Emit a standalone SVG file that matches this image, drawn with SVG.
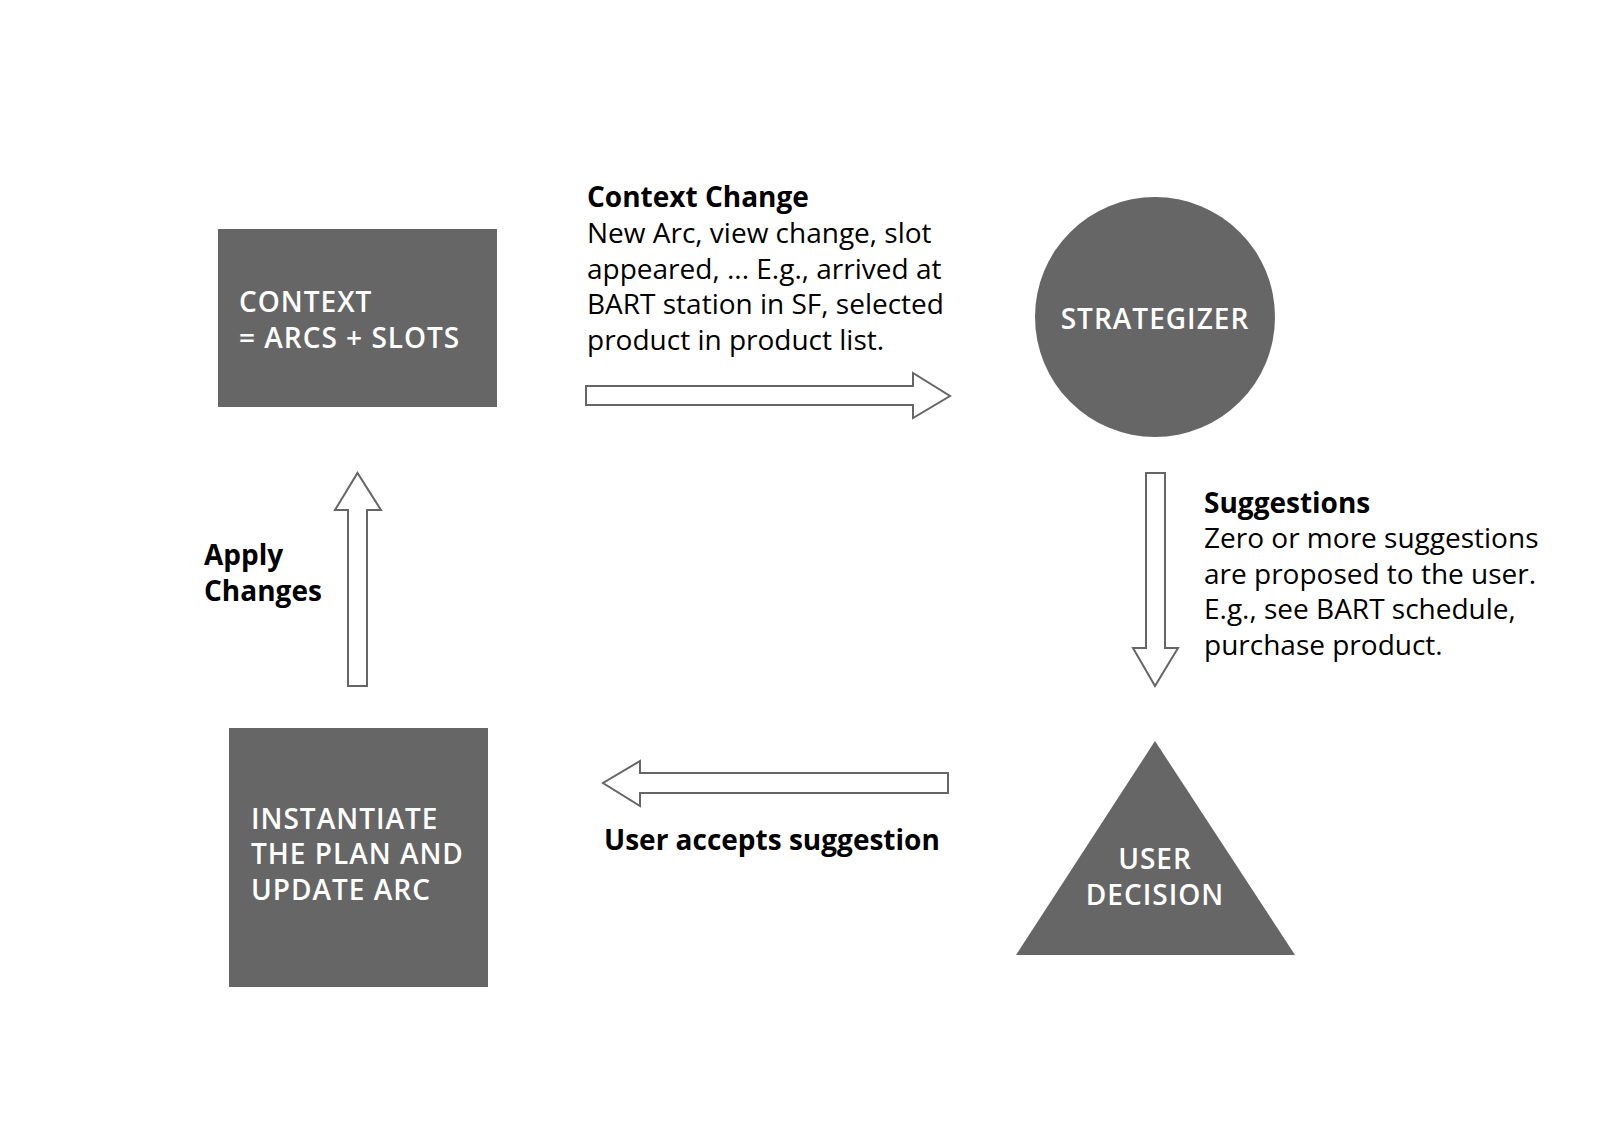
<svg xmlns="http://www.w3.org/2000/svg" width="1600" height="1134" viewBox="0 0 1600 1134">
<style>
  .node { fill: #666666; }
  .ntext { fill: #ffffff; font-family: "Open Sans", "Liberation Sans", sans-serif; font-weight: 600; font-size: 28px; letter-spacing: 1px; }
  .arrow { fill: #ffffff; stroke: #666666; stroke-width: 2; }
  .label { fill: #000000; font-family: "Open Sans", "Liberation Sans", sans-serif; font-size: 28px; }
  .bold { font-weight: 700; }
</style>
<rect width="1600" height="1134" fill="#ffffff"/>
<g id="context">
  <rect class="node" x="218" y="229" width="279" height="178"/>
  <text class="ntext" x="239" y="312">CONTEXT</text>
  <text class="ntext" x="239" y="348">= ARCS + SLOTS</text>
</g>
<g id="strategizer">
  <circle class="node" cx="1155" cy="317" r="120"/>
  <text class="ntext" x="1155" y="329" text-anchor="middle">STRATEGIZER</text>
</g>
<g id="user-decision">
  <polygon class="node" points="1155,741 1295,955 1016,955"/>
  <text class="ntext" x="1155" y="869" text-anchor="middle">USER</text>
  <text class="ntext" x="1155" y="905" text-anchor="middle">DECISION</text>
</g>
<g id="instantiate">
  <rect class="node" x="229" y="728" width="259" height="259"/>
  <text class="ntext" x="251" y="829">INSTANTIATE</text>
  <text class="ntext" x="251" y="864">THE PLAN AND</text>
  <text class="ntext" x="251" y="900">UPDATE ARC</text>
</g>
<g id="connectors">
  <polygon class="arrow" points="586,386 913,386 913,373 950,396 913,418 913,405 586,405"/>
  <polygon class="arrow" points="1146,473 1165,473 1165,648 1178,648 1155,686 1133,648 1146,648"/>
  <polygon class="arrow" points="948,773 640,773 640,761 603,783 640,806 640,793 948,793"/>
  <polygon class="arrow" points="348,686 348,510 335,510 357.5,473 381,510 367,510 367,686"/>
</g>
<g id="labels">
  <text class="label bold" x="587" y="207">Context Change</text>
  <text class="label" x="587" y="243">New Arc, view change, slot</text>
  <text class="label" x="587" y="279">appeared, ... E.g., arrived at</text>
  <text class="label" x="587" y="314">BART station in SF, selected</text>
  <text class="label" x="587" y="350">product in product list.</text>
  <text class="label bold" x="1204" y="513">Suggestions</text>
  <text class="label" x="1204" y="548">Zero or more suggestions</text>
  <text class="label" x="1204" y="584">are proposed to the user.</text>
  <text class="label" x="1204" y="619">E.g., see BART schedule,</text>
  <text class="label" x="1204" y="655">purchase product.</text>
  <text class="label bold" x="604" y="850">User accepts suggestion</text>
  <text class="label bold" x="204" y="565">Apply</text>
  <text class="label bold" x="204" y="601">Changes</text>
</g>
</svg>
